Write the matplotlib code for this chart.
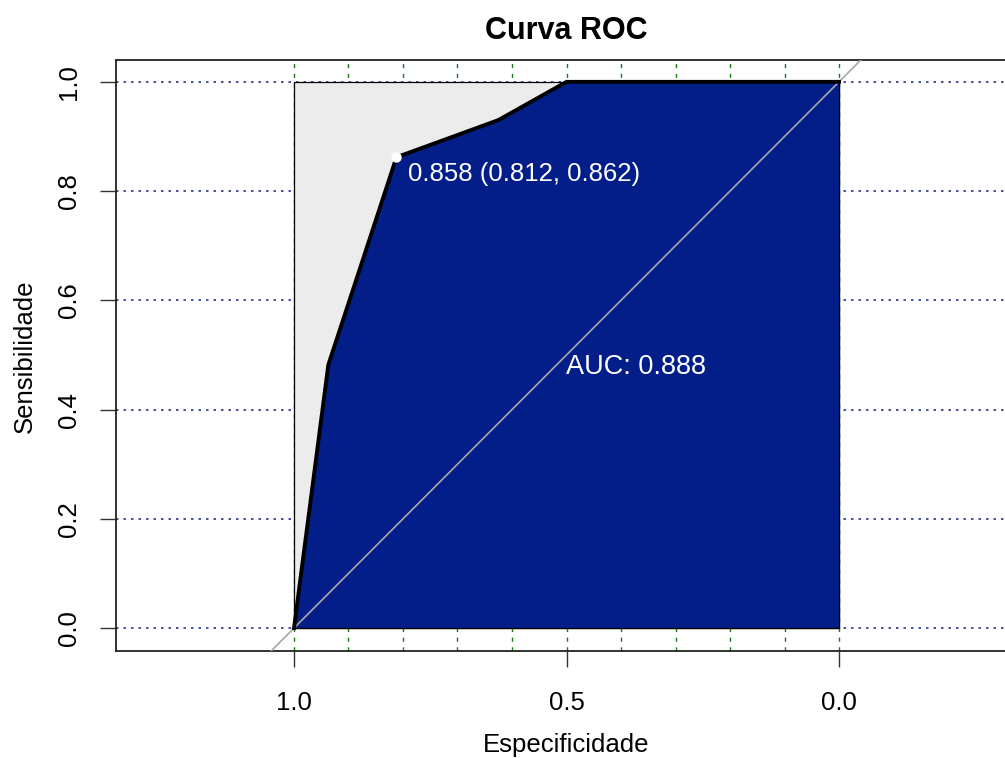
import matplotlib
matplotlib.use('Agg')
import matplotlib.pyplot as plt
from matplotlib.patches import Rectangle, Polygon
import numpy as np

plt.rcParams['font.family'] = ['Liberation Sans', 'DejaVu Sans']

# curva ROC (especificidade, sensibilidade)
spec = [1.0, 0.937, 0.812, 0.625, 0.5, 0.0]
sens = [0.0, 0.482, 0.862, 0.930, 1.0, 1.0]
thr_spec, thr_sens, thr_val = 0.812, 0.862, 0.858
auc = 0.888

grid_y = [0.0, 0.2, 0.4, 0.6, 0.8, 1.0]
grid_x = [1.0, 0.9, 0.8, 0.7, 0.6, 0.5, 0.4, 0.3, 0.2, 0.1, 0.0]
xticks = [1.0, 0.5, 0.0]
yticks = [0.0, 0.2, 0.4, 0.6, 0.8, 1.0]

fig = plt.figure(figsize=(10.05, 7.58), dpi=100)
ax = fig.add_axes([116/1005, 1-651/758, 901/1005, 591/758])
ax.set_xlim(1.3266, -0.3266)
ax.set_ylim(-0.042, 1.04)

# grade
for g in grid_y:
    ax.axhline(g, color='#2a3390', lw=1.2, ls=(0, (1.5, 3)), zorder=1)
for g in grid_x:
    ax.axvline(g, color='#1a7a1a', lw=1.0, ls=(0, (3, 4)), zorder=1)

# poligono maximo e area
ax.add_patch(Rectangle((0, 0), 1, 1, facecolor='#ececec', edgecolor='black', lw=0.9, zorder=2))
poly = list(zip(spec, sens)) + [(0.0, 0.0)]
ax.add_patch(Polygon(poly, closed=True, facecolor='#031e89', edgecolor='none', zorder=3))
ax.plot([0, 0, 1], [1, 0, 0], color='black', lw=0.9, zorder=3.5)

# diagonal
ax.axline((1, 0), (0, 1), color='#a8a8a8', lw=1.2, zorder=4)

ax.plot(spec, sens, color='black', lw=2.8, zorder=5, solid_joinstyle='round')
ax.plot([thr_spec], [thr_sens], 'o', color='white', ms=6.5, zorder=6)
ax.text(0.791, 0.8315, '%.3f (%.3f, %.3f)' % (thr_val, thr_spec, thr_sens),
        color='white', fontsize=18.5, ha='left', va='center', zorder=7)
ax.text(0.5, 0.478, 'AUC: %.3f' % auc, color='white', fontsize=19.5,
        ha='left', va='center', zorder=7)

ax.set_xticks(xticks)
ax.set_xticklabels(['%.1f' % t for t in xticks], fontsize=18.5)
ax.set_yticks(yticks)
ax.set_yticklabels(['%.1f' % t for t in yticks], fontsize=18.5, rotation=90, va='center')
ax.tick_params(axis='x', length=11.5, width=1.0, pad=17, color='#333333')
ax.tick_params(axis='y', length=11.5, width=1.0, pad=14, color='#333333')
for s in ax.spines.values():
    s.set_linewidth(1.3)
    s.set_color('#222222')

fig.text(566.5/1005, 1-31/758, 'Curva ROC', fontsize=22, fontweight='bold',
         ha='center', va='center')
fig.text(566.5/1005, 1-745/758, 'Especificidade', fontsize=18.5, ha='center', va='center')
fig.text(25/1005, 1-356/758, 'Sensibilidade', fontsize=18.5, ha='center', va='center',
         rotation=90)

fig.savefig('out.png', dpi=100)
